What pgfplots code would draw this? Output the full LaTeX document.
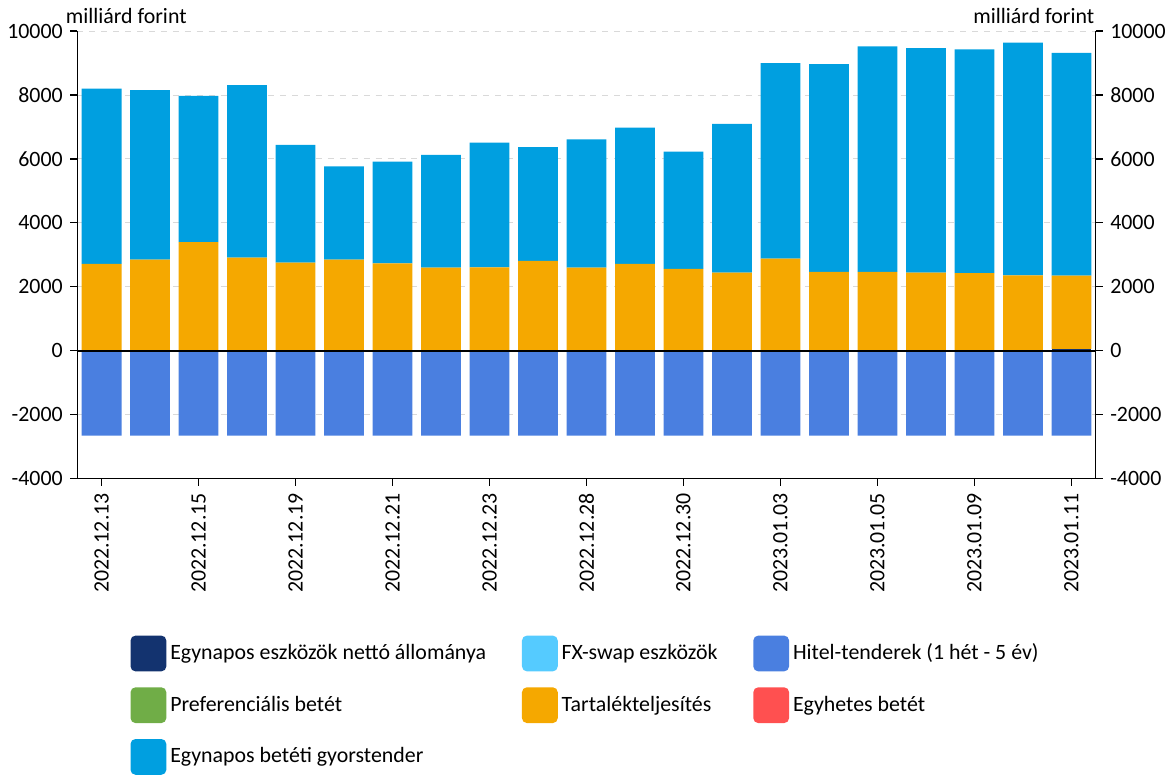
\documentclass[border=0pt]{standalone}
\usepackage{fontspec}
\setmainfont{Carlito}
\usepackage{pgfplots}
\usepackage{pgfplotstable}
\pgfplotsset{compat=1.18}
\definecolor{cDark}{HTML}{13336F}
\definecolor{cFX}{HTML}{55CBFF}
\definecolor{cHitel}{HTML}{4A7FE0}
\definecolor{cPref}{HTML}{70AD47}
\definecolor{cTart}{HTML}{F5A800}
\definecolor{cEgyh}{HTML}{FF5050}
\definecolor{cGyor}{HTML}{009FE0}
\pgfplotstableread{
x dark tart gyor hitel
0 0 2720 5480 -2660
1 0 2850 5300 -2660
2 0 3400 4570 -2660
3 0 2910 5400 -2660
4 0 2760 3680 -2660
5 0 2850 2920 -2660
6 0 2730 3190 -2660
7 0 2600 3530 -2660
8 0 2610 3900 -2660
9 0 2810 3560 -2660
10 0 2600 4010 -2660
11 0 2720 4260 -2660
12 0 2560 3670 -2660
13 0 2440 4660 -2660
14 0 2880 6120 -2660
15 0 2470 6500 -2660
16 0 2470 7050 -2660
17 0 2440 7030 -2660
18 0 2430 7000 -2660
19 0 2360 7280 -2660
20 50 2300 6970 -2660
}\datatable
\begin{document}
\fontsize{11}{13.2}\selectfont
\begin{tikzpicture}
\pgfplotsset{common/.style={
  width=512pt, height=225pt, scale only axis,
  xmin=-0.5, xmax=20.5, ymin=-4000, ymax=10000,
  ytick={-4000,-2000,0,2000,4000,6000,8000,10000},
  scaled y ticks=false,
  /pgf/number format/assume math mode=true,
  /pgf/number format/set thousands separator={},
  tick align=outside, major tick length=3.5pt,
  axis line style={black, line width=0.6pt},
  tick style={black, line width=0.6pt},
  bar width=0.82,
}}
\begin{axis}[common, ybar stacked, clip=false,
  axis y line*=left, axis x line*=bottom,
  xtick={0,2,...,20},
  xticklabels={2022.12.13,2022.12.15,2022.12.19,2022.12.21,2022.12.23,2022.12.28,2022.12.30,2023.01.03,2023.01.05,2023.01.09,2023.01.11},
  x tick label style={rotate=90, anchor=east},
  ymajorgrids, grid style={dashed, black!15, line width=0.5pt},
  legend columns=3,
  legend cell align=left,
  legend image code/.code={\fill[#1, rounded corners=2.5pt] (0pt,-9pt) rectangle (18pt,9pt);},
  legend style={at={(0.0518,-0.35)}, anchor=north west, draw=none, fill=none, inner sep=0pt,
    row sep=8pt, /tikz/every even column/.append style={column sep=16pt}},
]
\addlegendimage{fill=cDark, draw=none}
\addlegendentry{Egynapos eszközök nettó állománya}
\addlegendimage{fill=cFX, draw=none}
\addlegendentry{FX-swap eszközök}
\addlegendimage{fill=cHitel, draw=none}
\addlegendentry{Hitel-tenderek (1 hét - 5 év)}
\addlegendimage{fill=cPref, draw=none}
\addlegendentry{Preferenciális betét}
\addlegendimage{fill=cTart, draw=none}
\addlegendentry{Tartalékteljesítés}
\addlegendimage{fill=cEgyh, draw=none}
\addlegendentry{Egyhetes betét}
\addlegendimage{fill=cGyor, draw=none}
\addlegendentry{Egynapos betéti gyorstender}
\addplot[fill=cDark, draw=none, forget plot] table[x=x, y=dark] {\datatable};
\addplot[fill=cTart, draw=none, forget plot] table[x=x, y=tart] {\datatable};
\addplot[fill=cGyor, draw=none, forget plot] table[x=x, y=gyor] {\datatable};
\node[anchor=base west, inner xsep=0pt, inner ysep=4pt, xshift=-6pt, yshift=4pt] at (rel axis cs:0,1) {milliárd forint};
\node[anchor=base east, inner xsep=0pt, inner ysep=4pt, xshift=-0.5pt, yshift=4pt] at (rel axis cs:1,1) {milliárd forint};
\end{axis}
\begin{axis}[common, ybar,
  axis x line=none, axis y line*=right,
]
\addplot[fill=cHitel, draw=none] table[x=x, y=hitel] {\datatable};
\draw[black, line width=0.8pt] (axis cs:-0.5,0) -- (axis cs:20.5,0);
\end{axis}
\end{tikzpicture}
\end{document}
